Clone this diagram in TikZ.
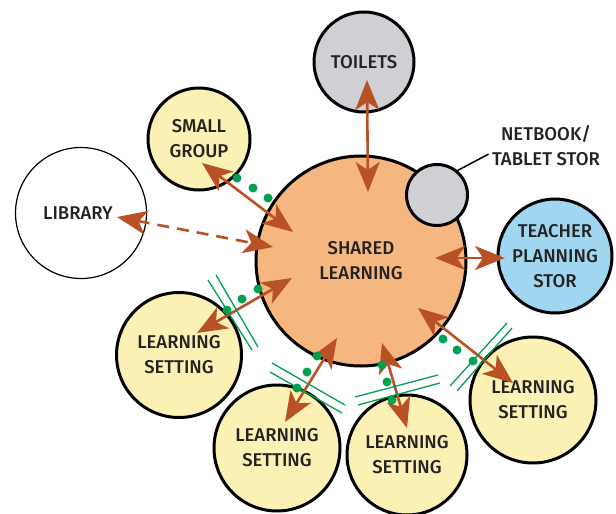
\documentclass[tikz,border=0pt]{standalone}
\usepackage{fontspec}
\setmainfont{Fira Sans Medium}
\usetikzlibrary{arrows.meta}
\definecolor{peach}{RGB}{246,182,128}
\definecolor{cream}{RGB}{251,241,180}
\definecolor{stone}{RGB}{206,208,212}
\definecolor{sky}{RGB}{160,214,240}
\definecolor{rust}{RGB}{184,82,36}
\definecolor{leaf}{RGB}{0,160,80}
\definecolor{ink}{RGB}{35,35,35}
\begin{document}
\begin{tikzpicture}[x=1pt, y=-1pt,
    room/.style={circle, draw=black, line width=3pt, inner sep=0pt, text=ink,
        align=center, font=\fontsize{18.5}{25}\selectfont},
    link/.style={rust, line width=2.6pt,
        {Stealth[length=30pt, width=24pt, inset=8pt]}-{Stealth[length=30pt, width=24pt, inset=8pt]}},
    wall/.style={leaf, line width=1.3pt},
    dot/.style={leaf}]
    \useasboundingbox (0, 0) rectangle (616, 514);
        % rooms
        \node[room, fill=stone, minimum size=100pt] (toilets) at (364, 62) {TOILETS};
        \node[room, fill=cream, minimum size=102pt] (smallgroup) at (199, 139) {SMALL\\GROUP};
        \node[room, fill=white, line width=1.2pt, minimum size=131pt] (library) at (81, 213) {\hspace*{-6pt}LIBRARY};
        \node[room, fill=peach, minimum size=210pt] (shared) at (361, 261) {SHARED\\LEARNING};
        \node[room, fill=stone, minimum size=61pt] (netbook) at (437, 195) {};
        \node[room, fill=sky, minimum size=114pt] (teacher) at (555, 256) {TEACHER\\PLANNING\\STOR};
        \node[room, fill=cream, minimum size=125pt] (lsleft) at (179, 355) {LEARNING\\SETTING};
        \node[room, fill=cream, minimum size=126pt] (lsbotl) at (277, 448) {LEARNING\\SETTING};
        \node[room, fill=cream, minimum size=120pt] (lsbotr) at (407, 455) {LEARNING\\SETTING};
        \node[room, fill=cream, minimum size=126pt] (lsright) at (533, 400) {LEARNING\\SETTING};
        \node[text=ink, align=center, font=\fontsize{18.5}{25}\selectfont] (netlabel) at (546, 146) {NETBOOK/\\TABLET STOR};
        \draw[semithick, line width=1.5pt] (netbook.50) -- (netlabel.188);
        % arrow ends
        \coordinate (t1) at (367, 80);  \coordinate (t2) at (368, 192);
        \coordinate (g1) at (202, 163); \coordinate (g2) at (293, 232);
        \coordinate (b1) at (117, 217); \coordinate (b2) at (273, 247);
        \coordinate (p1) at (435, 258); \coordinate (p2) at (505, 258);
        \coordinate (l1) at (197, 333); \coordinate (l2) at (292, 278);
        \coordinate (m1) at (285, 422); \coordinate (m2) at (337, 338);
        \coordinate (n1) at (407, 428); \coordinate (n2) at (382, 343);
        \coordinate (r1) at (513, 383); \coordinate (r2) at (418, 308);
        \draw[link] (t1) -- (t2);
        \draw[link] (g1) -- (g2);
        \draw[link, dash pattern=on 12pt off 8pt] (b1) -- (b2);
        \draw[link] (p1) -- (p2);
        \draw[link] (l1) -- (l2);
        \draw[link] (m1) -- (m2);
        \draw[link] (n1) -- (n2);
        \draw[link] (r1) -- (r2);
        % acoustic walls
        \draw[wall] (208, 280) -- (252, 350);
        \draw[wall] (216, 275) -- (258, 347);
        \draw[wall] (272, 363) -- (345, 405);
        \draw[wall] (270, 372) -- (342, 413);
        \draw[wall] (355, 397) -- (438, 375);
        \draw[wall] (358, 405) -- (440, 383);
        \draw[wall] (450, 386) -- (507, 323);
        \draw[wall] (457, 391) -- (512, 328);
        % openings
        \foreach \x/\y in {237/178, 253/188, 268/198,
                           227/310, 242/299, 258/289,
                           317/356, 307/372, 297/388,
                           382/365, 387/382, 392/400,
                           443/339, 457/350, 473/361}
            \fill[dot] (\x, \y) circle (4.5);
    \end{tikzpicture}
\end{document}
